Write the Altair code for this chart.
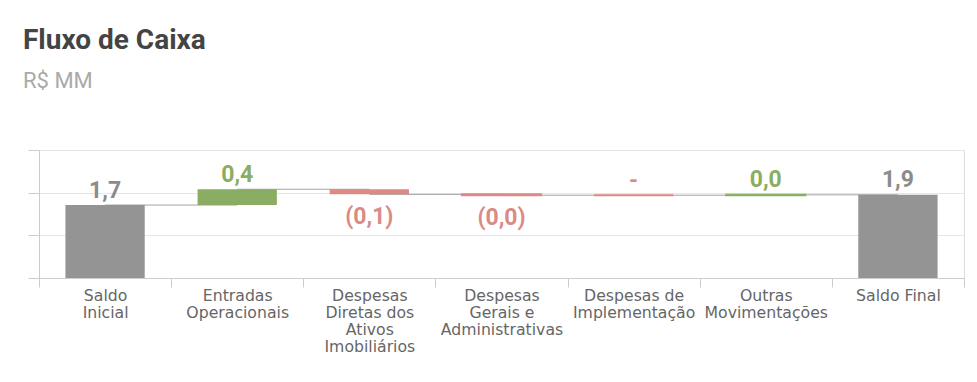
import altair as alt
import pandas as pd

categories = [
    "Saldo\nInicial",
    "Entradas\nOperacionais",
    "Despesas\nDiretas dos\nAtivos\nImobiliários",
    "Despesas\nGerais e\nAdministrativas",
    "Despesas de\nImplementação",
    "Outras\nMovimentações",
    "Saldo Final",
]
kinds = ["total", "delta", "delta", "delta", "delta", "delta", "total"]
values = [1.71, 0.37, -0.12, -0.02, 0.0, 0.01, 1.95]
value_labels = ["1,7", "0,4", "(0,1)", "(0,0)", "-", "0,0", "1,9"]
y_ticks = [0, 1, 2, 3]

rows = []
level = 0.0
for c, k, v, lab in zip(categories, kinds, values, value_labels):
    if k == "total":
        start, end = 0.0, v
        sign = "total"
    else:
        start, end = level, level + v
        sign = "neg" if v <= 0 else "pos"
    level = end
    rows.append(dict(cat=c, lo=min(start, end), hi=max(start, end), end=end,
                     sign=sign, below=(k != "total" and v < 0), label=lab,
                     small=(k != "total" and abs(v) < 0.05)))
df = pd.DataFrame(rows)

conn = pd.DataFrame([
    dict(cat=categories[i], cat2=categories[i + 1], level=rows[i]["end"])
    for i in range(len(categories) - 1)
])

sign_dom = ["total", "pos", "neg"]
bar_colors = ["#949494", "#8bad63", "#db8a84"]
text_colors = ["#8c8c8c", "#8aad5f", "#d98b85"]

xscale = alt.Scale(paddingInner=0, paddingOuter=0)
yscale = alt.Scale(domain=[0, 3], nice=False)

xenc = alt.X("cat:N", sort=categories, scale=xscale, title=None,
             axis=alt.Axis(labelAngle=0, labelExpr="split(datum.label, '\\n')",
                           labelFont="DejaVu Sans", labelFontSize=15.7, labelColor="#666666",
                           labelLineHeight=17.3, tickBand="extent", tickSize=9,
                           tickColor="#cccccc", domainColor="#cccccc", labelPadding=1,
                           labelLimit=0, grid=False, labelBaseline="top",
                           labelAlign="center", labelFlush=False, labelOverlap=False))
yaxis = alt.Axis(values=y_ticks, labels=False, title=None, tickSize=11,
                 tickColor="#cccccc", domainColor="#cccccc", gridColor="#e6e6e6")

connectors = alt.Chart(conn).mark_rule(color="#a3a3a3", strokeWidth=1).encode(
    x=alt.X("cat:N", sort=categories, scale=xscale),
    x2="cat2:N",
    y=alt.Y("level:Q", scale=yscale, axis=yaxis),
)

bars = alt.Chart(df).mark_bar(width=alt.RelativeBandSize(0.6)).encode(
    x=xenc,
    y=alt.Y("lo:Q", scale=yscale, axis=yaxis),
    y2="hi:Q",
    color=alt.Color("sign:N", scale=alt.Scale(domain=sign_dom, range=bar_colors), legend=None),
    stroke=alt.Stroke("sign:N", scale=alt.Scale(domain=sign_dom, range=bar_colors), legend=None),
    strokeWidth=alt.condition("datum.small", alt.value(2), alt.value(0)),
)

tcolor = alt.Color("sign:N", scale=alt.Scale(domain=sign_dom, range=text_colors), legend=None)

labels_up = alt.Chart(df).transform_filter("!datum.below").mark_text(
    font="Roboto", fontSize=23, fontWeight="bold", baseline="alphabetic", dy=-7.5
).encode(
    x=alt.X("cat:N", sort=categories, scale=xscale),
    y=alt.Y("hi:Q", scale=yscale),
    text="label:N",
    color=tcolor,
)
labels_down = alt.Chart(df).transform_filter("datum.below").mark_text(
    font="Roboto", fontSize=23, fontWeight="bold", baseline="alphabetic", dy=29.5
).encode(
    x=alt.X("cat:N", sort=categories, scale=xscale),
    y=alt.Y("lo:Q", scale=yscale),
    text="label:N",
    color=tcolor,
)

chart = alt.layer(connectors, bars, labels_up, labels_down).resolve_scale(
    color="independent"
).properties(
    width=925,
    height=128,
    autosize=alt.AutoSizeParams(type="none"),
    padding={"left": 31, "top": 142, "right": 3, "bottom": 86},
    title=alt.TitleParams(
        text="Fluxo de Caixa", subtitle="R$ MM", anchor="start", frame="group",
        dx=-16, offset=58, font="Roboto", fontSize=28, fontWeight="bold", color="#444444",
        subtitleFont="Roboto", subtitleFontSize=22, subtitleColor="#aaaaaa",
        subtitlePadding=16,
    ),
).configure_view(stroke=None).configure(background="white")

chart.save("out.html", embed_options={"renderer": "svg", "actions": False})
